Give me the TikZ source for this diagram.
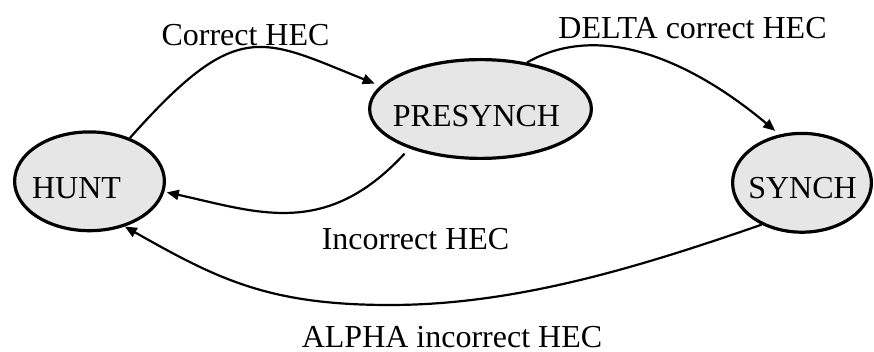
\documentclass[tikz,border=0pt]{standalone}
\usepackage{fontspec}
\setmainfont{Liberation Serif}
\usetikzlibrary{shapes.geometric,arrows.meta}
\definecolor{statefill}{RGB}{230,230,230}
\begin{document}
\begin{tikzpicture}[x=1pt,y=-1pt,
  state/.style={ellipse,draw=black,fill=statefill,line width=3.2pt,
                minimum height=98.8pt,inner sep=0pt},
  txt/.style={anchor=base,inner sep=0pt,font=\fontsize{32}{38}\selectfont},
  edge/.style={line width=2.2pt,-{Triangle[length=12pt,width=10pt]}}]
\useasboundingbox (0,0) rectangle (874,352);

% states
\node[state,minimum width=149.8pt] (hunt) at (89.5,181.3) {};
\node[state,minimum width=221.8pt] (pre)  at (480.5,109) {};
\node[state,minimum width=138.8pt] (sync) at (802,182.8) {};

\node[txt] (huntname) at (76.5,198.3) {HUNT};
\node[txt] (prename)  at (476.5,127)  {PRESYNCH};
\node[txt] (syncname) at (802.5,198.3) {SYNCH};

% transitions
\draw[edge,shorten >=6pt] (hunt.47) .. controls (237.5,17) and (261,38) .. (pre.167);
\draw[edge,shorten >=5.5pt] (pre.45) .. controls (601,20) and (693,62) .. (sync.115);
\draw[edge,shorten <=7pt,shorten >=2.5pt] (pre.209) .. controls (325.5,239.3) and (257,212) .. (hunt.352);
\draw[edge] (sync.226) .. controls (641,266.4) and (517,305) .. (390,305)
            .. controls (270,305) and (218.8,280) .. (hunt.308);

% transition labels
\node[txt] (lcorrect)   at (245.5,46)  {Correct HEC};
\node[txt] (ldelta)     at (692.5,39)  {DELTA correct HEC};
\node[txt] (lincorrect) at (415.5,250) {Incorrect HEC};
\node[txt] (lalpha)     at (452,347.5) {ALPHA incorrect HEC};
\end{tikzpicture}
\end{document}
